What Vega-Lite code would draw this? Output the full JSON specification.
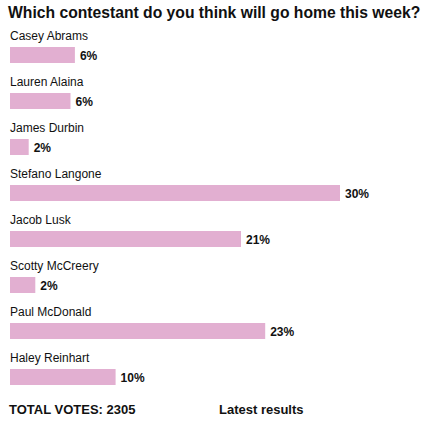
{
  "$schema": "https://vega.github.io/schema/vega-lite/v6.json",
  "padding": {"left": 8, "top": 5, "right": 0, "bottom": 0},
  "background": "white",
  "title": {
    "text": "Which contestant do you think will go home this week?",
    "anchor": "start",
    "font": "Liberation Sans",
    "fontSize": 15.7,
    "fontWeight": "bold",
    "color": "#111111",
    "dx": -1,
    "offset": 8.3
  },
  "config": {
    "view": {"stroke": null},
    "font": "Liberation Sans"
  },
  "spacing": 4,
  "vconcat": [
    {
      "width": 418,
      "height": {"step": 46},
      "data": {
        "values": [
          {"name": "Casey Abrams", "value": 5.9, "label": "6%"},
          {"name": "Lauren Alaina", "value": 5.5, "label": "6%"},
          {"name": "James Durbin", "value": 1.7, "label": "2%"},
          {"name": "Stefano Langone", "value": 30, "label": "30%"},
          {"name": "Jacob Lusk", "value": 21, "label": "21%"},
          {"name": "Scotty McCreery", "value": 2.3, "label": "2%"},
          {"name": "Paul McDonald", "value": 23.2, "label": "23%"},
          {"name": "Haley Reinhart", "value": 9.6, "label": "10%"}
        ]
      },
      "encoding": {
        "y": {
          "field": "name",
          "type": "nominal",
          "sort": null,
          "axis": null,
          "scale": {"paddingInner": 0, "paddingOuter": 0}
        }
      },
      "layer": [
        {
          "mark": {"type": "bar", "color": "#E2AFD1", "height": {"band": 0.3478}},
          "encoding": {
            "x": {
              "field": "value",
              "type": "quantitative",
              "axis": null,
              "scale": {"domain": [0, 38], "nice": false, "zero": true}
            }
          }
        },
        {
          "mark": {"type": "text", "align": "left", "baseline": "alphabetic", "dy": -15, "fontSize": 12, "color": "#111111"},
          "encoding": {
            "x": {"datum": 0, "type": "quantitative"},
            "text": {"field": "name"}
          }
        },
        {
          "mark": {"type": "text", "align": "left", "baseline": "alphabetic", "dx": 5, "dy": 4.5, "fontSize": 12, "fontWeight": "bold", "color": "#111111"},
          "encoding": {
            "x": {"field": "value", "type": "quantitative"},
            "text": {"field": "label"}
          }
        }
      ]
    },
    {
      "width": 210,
      "height": 20,
      "data": {
        "values": [
          {"text": "TOTAL VOTES: 2305"},
          {"text": "Latest results"}
        ]
      },
      "mark": {"type": "text", "align": "left", "baseline": "alphabetic", "dx": -1, "fontSize": 13, "fontWeight": "bold", "color": "#111111"},
      "encoding": {
        "x": {
          "field": "text",
          "type": "nominal",
          "sort": null,
          "axis": null,
          "scale": {"type": "point", "padding": 0}
        },
        "text": {"field": "text"}
      }
    }
  ]
}
